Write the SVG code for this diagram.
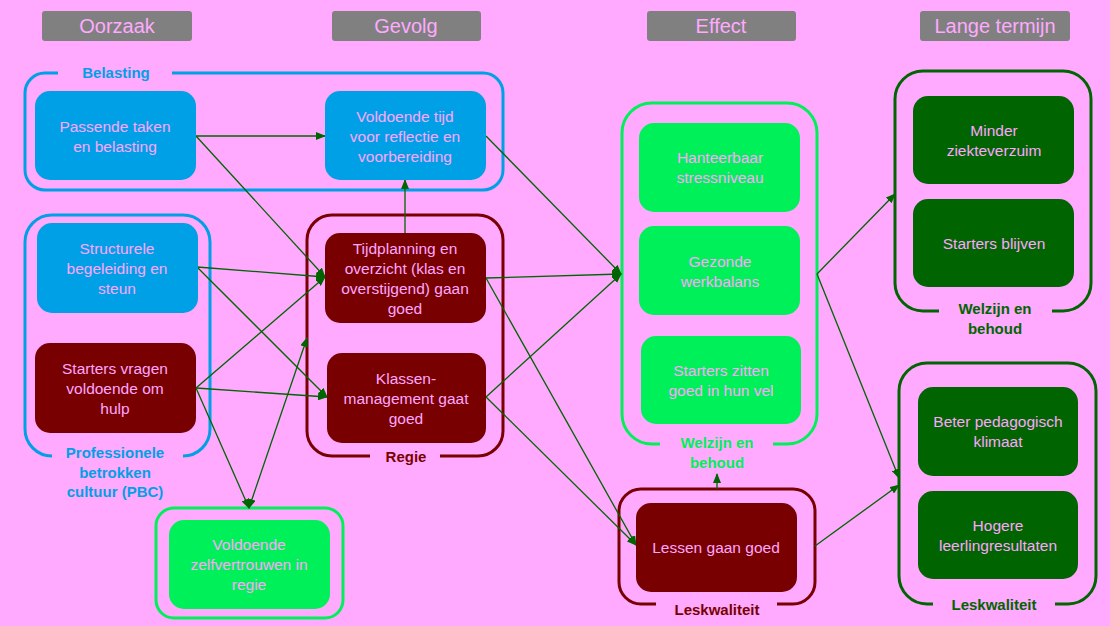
<svg xmlns="http://www.w3.org/2000/svg" width="1110" height="626" viewBox="0 0 1110 626">
<style>
.hdr{fill:#808080}
.ht{font-family:"Liberation Sans",Arial,sans-serif;font-size:20px;fill:#FFAAFF;text-anchor:middle}
.nt{font-family:"Liberation Sans",Arial,sans-serif;font-size:15.5px;fill:#FFA6FF;text-anchor:middle}
.gl{font-family:"Liberation Sans",Arial,sans-serif;font-size:15px;font-weight:bold;text-anchor:middle}
.blue{fill:#00A0E6}
.red{fill:#790000}
.grn{fill:#00F05A}
.dgrn{fill:#006400}
.gb{fill:none;stroke:#00A0E6;stroke-width:3}
.gr{fill:none;stroke:#790000;stroke-width:3}
.gg{fill:none;stroke:#00F05A;stroke-width:3}
.gd{fill:none;stroke:#006400;stroke-width:3}
.c{fill:none;stroke:#006400;stroke-width:1.3}
</style>
<defs>
<marker id="ah" markerUnits="userSpaceOnUse" markerWidth="10" markerHeight="8" refX="9" refY="4" orient="auto">
<path d="M0,0 L10,4 L0,8 Z" fill="#006400"/>
</marker>
<marker id="as" markerUnits="userSpaceOnUse" markerWidth="10" markerHeight="8" refX="9" refY="4" orient="auto-start-reverse">
<path d="M0,0 L10,4 L0,8 Z" fill="#006400"/>
</marker>
</defs>
<rect width="1110" height="626" fill="#FFAAFF"/>

<g id="headers">
<rect class="hdr" x="42" y="11" width="150" height="30" rx="3"/>
<text class="ht" x="117" y="33">Oorzaak</text>
<rect class="hdr" x="332" y="11" width="149" height="30" rx="3"/>
<text class="ht" x="406" y="33">Gevolg</text>
<rect class="hdr" x="647" y="11" width="149" height="30" rx="3"/>
<text class="ht" x="721" y="33">Effect</text>
<rect class="hdr" x="920" y="11" width="150" height="30" rx="3"/>
<text class="ht" x="995" y="33">Lange termijn</text>
</g>

<g id="group-belasting">
<path class="gb" d="M172 73 H483 A20 20 0 0 1 503 93 V170 A20 20 0 0 1 483 190 H45 A20 20 0 0 1 25 170 V93 A20 20 0 0 1 45 73 H58"/>
<text class="gl" x="116" y="78" fill="#00A0E6">Belasting</text>
</g>
<g id="group-pbc">
<path class="gb" d="M183 456 A27 27 0 0 0 210 429 V242 A27 27 0 0 0 183 215 H52 A27 27 0 0 0 25 242 V429 A27 27 0 0 0 52 456"/>
<text class="gl" x="115" y="458" fill="#00A0E6">Professionele</text>
<text class="gl" x="115" y="478" fill="#00A0E6">betrokken</text>
<text class="gl" x="115" y="497" fill="#00A0E6">cultuur (PBC)</text>
</g>
<g id="group-regie">
<path class="gr" d="M440 456 H478 A25 25 0 0 0 503 431 V240 A25 25 0 0 0 478 215 H332 A25 25 0 0 0 307 240 V431 A25 25 0 0 0 332 456 H370"/>
<text class="gl" x="406" y="462" fill="#790000">Regie</text>
</g>
<g id="group-zelfvertrouwen">
<rect class="gg" x="156" y="508" width="187" height="110" rx="18"/>
</g>
<g id="group-effect-welzijn">
<path class="gg" d="M773 444 H787 A30 30 0 0 0 817 414 V133 A30 30 0 0 0 787 103 H652 A30 30 0 0 0 622 133 V414 A30 30 0 0 0 652 444 H660"/>
<text class="gl" x="717" y="448" fill="#00F05A">Welzijn en</text>
<text class="gl" x="717" y="468" fill="#00F05A">behoud</text>
</g>
<g id="group-effect-leskwaliteit">
<path class="gr" d="M777 604 H793 A22 22 0 0 0 815 582 V511 A22 22 0 0 0 793 489 H641 A22 22 0 0 0 619 511 V582 A22 22 0 0 0 641 604 H656"/>
<text class="gl" x="717" y="615" fill="#790000">Leskwaliteit</text>
</g>
<g id="group-lt-welzijn">
<path class="gd" d="M1052 311 H1063 A28 28 0 0 0 1091 283 V99 A28 28 0 0 0 1063 71 H923 A28 28 0 0 0 895 99 V283 A28 28 0 0 0 923 311 H939"/>
<text class="gl" x="995" y="314" fill="#006400">Welzijn en</text>
<text class="gl" x="995" y="334" fill="#006400">behoud</text>
</g>
<g id="group-lt-leskwaliteit">
<path class="gd" d="M1055 604 H1068 A28 28 0 0 0 1096 576 V391 A28 28 0 0 0 1068 363 H927 A28 28 0 0 0 899 391 V576 A28 28 0 0 0 927 604 H933"/>
<text class="gl" x="994" y="610" fill="#006400">Leskwaliteit</text>
</g>

<g id="connectors">
<line class="c" x1="196" y1="136" x2="325" y2="136" marker-end="url(#ah)"/>
<line class="c" x1="196" y1="136" x2="325" y2="277" marker-end="url(#ah)"/>
<line class="c" x1="486" y1="136" x2="621" y2="274" marker-end="url(#ah)"/>
<line class="c" x1="405" y1="233" x2="405" y2="180" marker-end="url(#ah)"/>
<line class="c" x1="197" y1="267" x2="325" y2="277" marker-end="url(#ah)"/>
<line class="c" x1="197" y1="267" x2="327" y2="397" marker-end="url(#ah)"/>
<line class="c" x1="196" y1="388" x2="325" y2="277" marker-end="url(#ah)"/>
<line class="c" x1="196" y1="388" x2="327" y2="397" marker-end="url(#ah)"/>
<line class="c" x1="196" y1="388" x2="249" y2="508" marker-end="url(#ah)"/>
<line class="c" x1="249" y1="508" x2="307" y2="338" marker-start="url(#as)" marker-end="url(#ah)"/>
<line class="c" x1="486" y1="278" x2="621" y2="274" marker-end="url(#ah)"/>
<line class="c" x1="486" y1="397" x2="621" y2="274" marker-end="url(#ah)"/>
<line class="c" x1="486" y1="278" x2="636" y2="545" marker-end="url(#ah)"/>
<line class="c" x1="486" y1="397" x2="636" y2="545" marker-end="url(#ah)"/>
<line class="c" x1="717" y1="489" x2="717" y2="474" marker-end="url(#ah)"/>
<line class="c" x1="817" y1="274" x2="895" y2="194" marker-end="url(#ah)"/>
<line class="c" x1="817" y1="274" x2="899" y2="478" marker-end="url(#ah)"/>
<line class="c" x1="815" y1="546" x2="899" y2="485" marker-end="url(#ah)"/>
</g>

<g id="node-passende">
<rect class="blue" x="35" y="91" width="161" height="89" rx="15"/>
<text class="nt" x="115" y="132">Passende taken</text>
<text class="nt" x="115" y="152">en belasting</text>
</g>
<g id="node-voldoende-tijd">
<rect class="blue" x="325" y="91" width="161" height="89" rx="15"/>
<text class="nt" x="405" y="122">Voldoende tijd</text>
<text class="nt" x="405" y="142">voor reflectie en</text>
<text class="nt" x="405" y="162">voorbereiding</text>
</g>
<g id="node-structurele">
<rect class="blue" x="37" y="223" width="161" height="90" rx="15"/>
<text class="nt" x="117" y="254">Structurele</text>
<text class="nt" x="117" y="274">begeleiding en</text>
<text class="nt" x="117" y="294">steun</text>
</g>
<g id="node-starters-vragen">
<rect class="red" x="35" y="343" width="161" height="90" rx="15"/>
<text class="nt" x="115" y="374">Starters vragen</text>
<text class="nt" x="115" y="394">voldoende om</text>
<text class="nt" x="115" y="414">hulp</text>
</g>
<g id="node-tijdplanning">
<rect class="red" x="325" y="233" width="161" height="90" rx="15"/>
<text class="nt" x="405" y="254">Tijdplanning en</text>
<text class="nt" x="405" y="274">overzicht (klas en</text>
<text class="nt" x="405" y="294">overstijgend) gaan</text>
<text class="nt" x="405" y="314">goed</text>
</g>
<g id="node-klassenmanagement">
<rect class="red" x="327" y="353" width="159" height="90" rx="15"/>
<text class="nt" x="406" y="384">Klassen-</text>
<text class="nt" x="406" y="404">management gaat</text>
<text class="nt" x="406" y="424">goed</text>
</g>
<g id="node-zelfvertrouwen">
<rect class="grn" x="169" y="520" width="161" height="89" rx="15"/>
<text class="nt" x="249" y="550">Voldoende</text>
<text class="nt" x="249" y="570">zelfvertrouwen in</text>
<text class="nt" x="249" y="590">regie</text>
</g>
<g id="node-hanteerbaar">
<rect class="grn" x="639" y="123" width="161" height="89" rx="15"/>
<text class="nt" x="720" y="163">Hanteerbaar</text>
<text class="nt" x="720" y="183">stressniveau</text>
</g>
<g id="node-werkbalans">
<rect class="grn" x="639" y="226" width="161" height="89" rx="15"/>
<text class="nt" x="720" y="267">Gezonde</text>
<text class="nt" x="720" y="287">werkbalans</text>
</g>
<g id="node-zitten-goed">
<rect class="grn" x="641" y="336" width="160" height="88" rx="15"/>
<text class="nt" x="721" y="376">Starters zitten</text>
<text class="nt" x="721" y="396">goed in hun vel</text>
</g>
<g id="node-lessen">
<rect class="red" x="636" y="503" width="161" height="89" rx="15"/>
<text class="nt" x="716" y="553">Lessen gaan goed</text>
</g>
<g id="node-ziekteverzuim">
<rect class="dgrn" x="913" y="96" width="161" height="88" rx="15"/>
<text class="nt" x="994" y="136">Minder</text>
<text class="nt" x="994" y="156">ziekteverzuim</text>
</g>
<g id="node-starters-blijven">
<rect class="dgrn" x="913" y="199" width="161" height="88" rx="15"/>
<text class="nt" x="994" y="249">Starters blijven</text>
</g>
<g id="node-pedagogisch">
<rect class="dgrn" x="918" y="387" width="160" height="89" rx="15"/>
<text class="nt" x="998" y="427">Beter pedagogisch</text>
<text class="nt" x="998" y="447">klimaat</text>
</g>
<g id="node-leerlingresultaten">
<rect class="dgrn" x="918" y="491" width="160" height="88" rx="15"/>
<text class="nt" x="998" y="531">Hogere</text>
<text class="nt" x="998" y="551">leerlingresultaten</text>
</g>
</svg>
